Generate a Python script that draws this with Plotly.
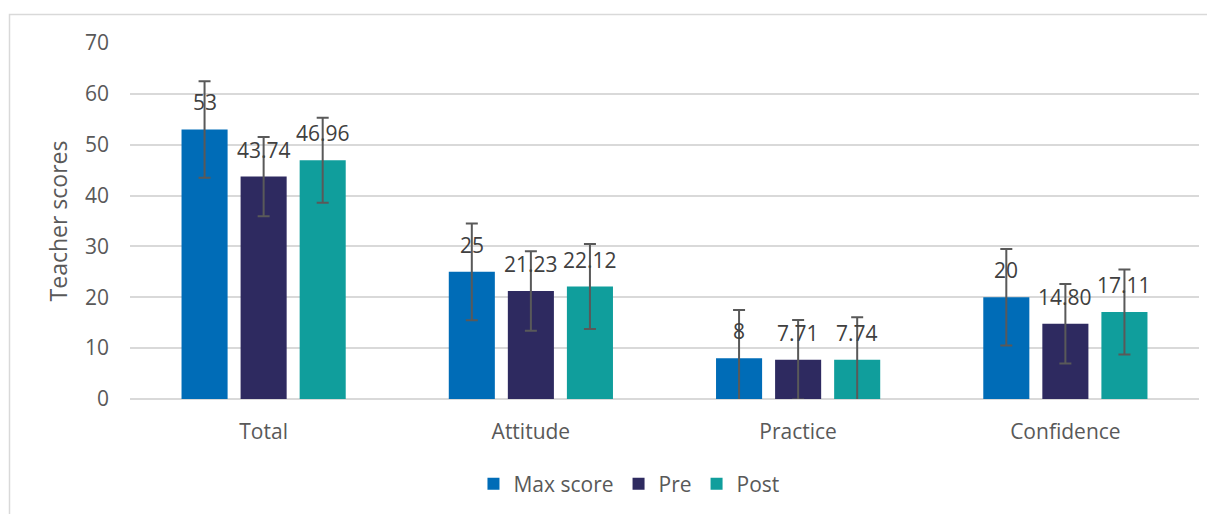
import plotly.graph_objects as go

categories = ["Total", "Attitude", "Practice", "Confidence"]
series_names = ["Max score", "Pre", "Post"]
max_score = [53, 25, 8, 20]
pre = [43.74, 21.23, 7.71, 14.80]
post = [46.96, 22.12, 7.74, 17.11]
max_labels = ["53", "25", "8", "20"]
pre_labels = ["43.74", "21.23", "7.71", "14.80"]
post_labels = ["46.96", "22.12", "7.74", "17.11"]
max_err = [9.5, 9.5, 9.5, 9.5]
pre_err = [7.8, 7.8, 7.8, 7.8]
post_err = [8.35, 8.35, 8.35, 8.35]
y_ticks = [0, 10, 20, 30, 40, 50, 60, 70]

colors = ["#006CB7", "#2E2A60", "#109E9C"]
FONT = "Open Sans"
FS = 21

# page body adds an 8px offset; figure coordinates below compensate for it
W, H = 1207, 506
ml, mr, mt, mb = 122, 16, 35, 115
pw = W - ml - mr
ph = H - mt - mb

values = [max_score, pre, post]
labels = [max_labels, pre_labels, post_labels]
errs = [max_err, pre_err, post_err]

fig = go.Figure()
for name, vals, err, col in zip(series_names, values, errs, colors):
    fig.add_trace(go.Bar(
        name=name, x=categories, y=vals, marker_color=col,
        marker_line_width=0,
        error_y=dict(type="data", array=err, visible=True, color="#595959",
                     thickness=2, width=6),
    ))

bargap = 0.337
slot = (1 - bargap) / 3
offsets = [-slot, 0, slot]
annotations = []
for s, (vals, labs) in enumerate(zip(values, labels)):
    for i, (v, t) in enumerate(zip(vals, labs)):
        annotations.append(dict(
            x=i + offsets[s], y=v, xref="x", yref="y", text=t,
            showarrow=False, yanchor="bottom", yshift=11,
            font=dict(family=FONT, size=FS, color="#404040"),
        ))

fig.update_layout(
    width=W, height=H,
    margin=dict(l=ml, r=mr, t=mt, b=mb, autoexpand=False),
    paper_bgcolor="white", plot_bgcolor="white",
    barmode="group", bargap=bargap, bargroupgap=0.22,
    font=dict(family=FONT, size=FS, color="#595959"),
    annotations=annotations,
    showlegend=True,
    legend=dict(orientation="h", x=0.3213, xanchor="left", y=-0.239,
                yanchor="middle", font=dict(family=FONT, size=FS, color="#595959"),
                traceorder="normal", itemwidth=30),
    shapes=[dict(type="rect", xref="paper", yref="paper",
                 x0=(1.5 - ml) / pw, x1=1.2, y0=-0.6, y1=(H - mb - 6.5) / ph,
                 line=dict(color="#D9D9D9", width=1.5), layer="below")],
)
fig.update_xaxes(showgrid=False, showline=False, zeroline=False, automargin=False,
                 ticks="", ticklabelstandoff=18,
                 tickfont=dict(family=FONT, size=FS, color="#595959"))
fig.update_yaxes(range=[0, 70], tickvals=y_ticks, showgrid=True, automargin=False,
                 gridcolor="#D9D9D9", gridwidth=1.5, zeroline=True,
                 zerolinecolor="#D9D9D9", zerolinewidth=1.5, showline=False,
                 ticks="", ticklabelstandoff=20,
                 tickfont=dict(family=FONT, size=FS, color="#595959"),
                 title=dict(text="Teacher scores", standoff=10,
                            font=dict(family=FONT, size=23, color="#595959")))

fig.write_html("out.html")
